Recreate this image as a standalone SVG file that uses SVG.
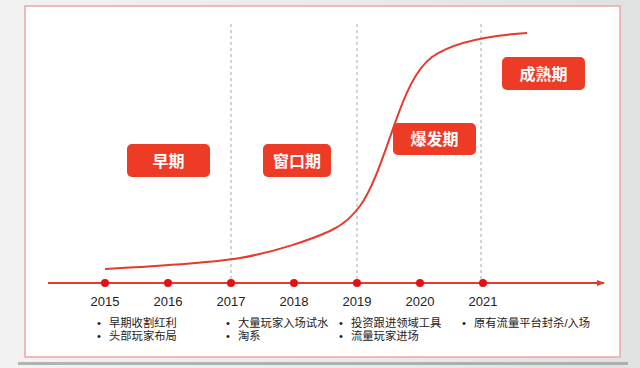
<svg xmlns="http://www.w3.org/2000/svg" width="640" height="368" viewBox="0 0 640 368">
<defs>
<linearGradient id="bg" x1="0" y1="0" x2="1" y2="0">
<stop offset="0" stop-color="#f2f2f2"/>
<stop offset="0.5" stop-color="#ebebeb"/>
<stop offset="1" stop-color="#dfe2e0"/>
</linearGradient>
<marker id="arr" markerWidth="8" markerHeight="8" refX="7" refY="4" orient="auto" markerUnits="userSpaceOnUse">
<path d="M0,1 L8,4 L0,7 Z" fill="#e53a2c"/>
</marker>
<style>
.box{fill:#ee3b26;}
.lbl{font-family:"Liberation Sans","Noto Sans CJK SC",sans-serif;font-size:16px;font-weight:bold;fill:#fff;text-anchor:middle;}
.yr{font-family:"Liberation Sans","Noto Sans CJK SC",sans-serif;font-size:13px;fill:#222;text-anchor:middle;}
.bt{font-family:"Liberation Sans","Noto Sans CJK SC",sans-serif;font-size:11.3px;fill:#222;}
.dash{stroke:#a8a8a8;stroke-width:1;stroke-dasharray:3 3;}
.dot{fill:#e60f12;}
</style>
</defs>
<rect x="0" y="0" width="640" height="368" fill="url(#bg)"/>
<rect x="18" y="362" width="610" height="3" fill="#8a8a8a" opacity="0.6"/>
<rect x="25" y="6" width="595" height="351" fill="#ffffff" stroke="#f0a4a8" stroke-width="1.5"/>

<g id="connectors">
<line class="dash" x1="231" y1="24" x2="231" y2="283"/>
<line class="dash" x1="357" y1="24" x2="357" y2="283"/>
<line class="dash" x1="481" y1="24" x2="481" y2="283"/>
<line x1="48" y1="283" x2="604" y2="283" stroke="#e53a2c" stroke-width="2" marker-end="url(#arr)"/>
<path d="M105,269 C160,266 210,263 240,258 C275,252 310,240 330,231 C345,224 352,216 360,206 C372,190 382,160 395,123 C405,95 415,70 432,57 C450,44 480,36 527,33" fill="none" stroke="#e53a2c" stroke-width="2"/>
</g>

<g id="dots">
<circle class="dot" cx="105" cy="283" r="4"/>
<circle class="dot" cx="168" cy="283" r="4"/>
<circle class="dot" cx="231" cy="283" r="4"/>
<circle class="dot" cx="294" cy="283" r="4"/>
<circle class="dot" cx="357" cy="283" r="4"/>
<circle class="dot" cx="420" cy="283" r="4"/>
<circle class="dot" cx="483" cy="283" r="4"/>
</g>

<g id="node-early">
<rect class="box" x="127" y="144" width="83" height="33" rx="5"/>
<text class="lbl" x="168.5" y="166.5">早期</text>
</g>
<g id="node-window">
<rect class="box" x="263" y="144" width="68" height="33" rx="5"/>
<text class="lbl" x="297" y="166.5">窗口期</text>
</g>
<g id="node-boom">
<rect class="box" x="393" y="123" width="83" height="32" rx="5"/>
<text class="lbl" x="434.5" y="145">爆发期</text>
</g>
<g id="node-mature">
<rect class="box" x="502" y="57" width="83" height="33" rx="5"/>
<text class="lbl" x="543.5" y="79.5">成熟期</text>
</g>

<g id="years">
<text class="yr" x="105" y="306">2015</text>
<text class="yr" x="168" y="306">2016</text>
<text class="yr" x="231" y="306">2017</text>
<text class="yr" x="294" y="306">2018</text>
<text class="yr" x="357" y="306">2019</text>
<text class="yr" x="420" y="306">2020</text>
<text class="yr" x="483" y="306">2021</text>
</g>

<g id="notes">
<text class="bt" x="97" y="327">•</text>
<text class="bt" x="109" y="327">早期收割红利</text>
<text class="bt" x="97" y="340">•</text>
<text class="bt" x="109" y="340">头部玩家布局</text>
<text class="bt" x="226" y="327">•</text>
<text class="bt" x="238" y="327">大量玩家入场试水</text>
<text class="bt" x="226" y="340">•</text>
<text class="bt" x="238" y="340">淘系</text>
<text class="bt" x="339" y="327">•</text>
<text class="bt" x="351" y="327">投资跟进领域工具</text>
<text class="bt" x="339" y="340">•</text>
<text class="bt" x="351" y="340">流量玩家进场</text>
<text class="bt" x="462" y="327">•</text>
<text class="bt" x="474" y="327">原有流量平台封杀/入场</text>
</g>
</svg>
